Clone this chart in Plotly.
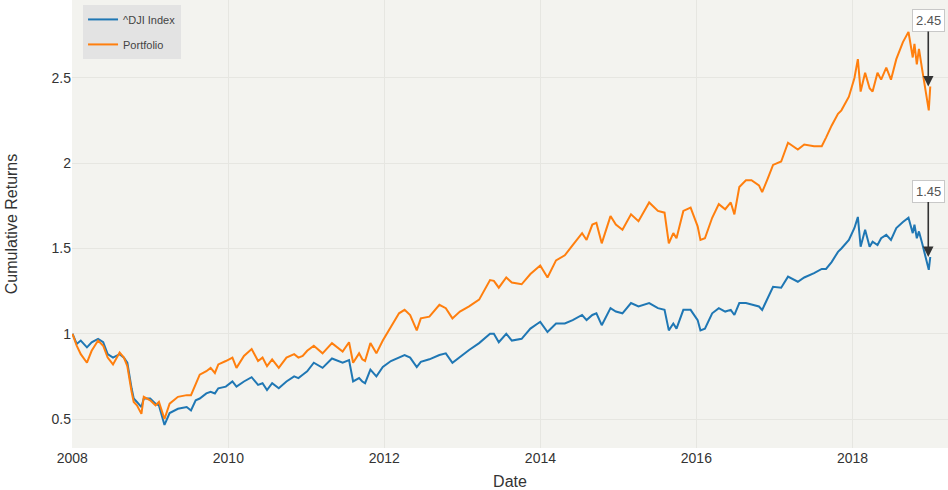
import plotly.graph_objects as go

dates = [
    "2008-01-02", "2008-01-22", "2008-02-10", "2008-03-10", "2008-04-01", "2008-05-01", "2008-05-25", "2008-06-15",
    "2008-07-10", "2008-08-10", "2008-08-30", "2008-09-15", "2008-10-05", "2008-10-15", "2008-10-30", "2008-11-20",
    "2008-12-01", "2008-12-31",
    "2009-01-25", "2009-02-10", "2009-03-08", "2009-04-01", "2009-05-10", "2009-06-20", "2009-07-10", "2009-08-01",
    "2009-08-20", "2009-09-20", "2009-10-10", "2009-10-30", "2009-11-15", "2009-12-20",
    "2010-01-20", "2010-02-08", "2010-03-15", "2010-04-20", "2010-05-20", "2010-06-10", "2010-07-01", "2010-07-25",
    "2010-08-25", "2010-09-30", "2010-11-05", "2010-11-25", "2010-12-15",
    "2011-01-05", "2011-02-05", "2011-03-18", "2011-05-01", "2011-06-20", "2011-07-20", "2011-08-08", "2011-09-05",
    "2011-09-20", "2011-10-03", "2011-10-28", "2011-11-25", "2011-12-25",
    "2012-02-01", "2012-03-10", "2012-04-05", "2012-05-01", "2012-06-01", "2012-06-20", "2012-07-30", "2012-09-15",
    "2012-10-15", "2012-11-15", "2012-12-20",
    "2013-02-01", "2013-03-20", "2013-05-10", "2013-05-28", "2013-06-20", "2013-07-25", "2013-08-20", "2013-10-05",
    "2013-11-15", "2013-12-31",
    "2014-02-03", "2014-03-15", "2014-04-25", "2014-06-01", "2014-07-15", "2014-08-05", "2014-09-01", "2014-09-20",
    "2014-10-15", "2014-11-25", "2014-12-20",
    "2015-01-20", "2015-03-01", "2015-04-05", "2015-05-25", "2015-07-05", "2015-08-05", "2015-08-25", "2015-09-15",
    "2015-09-30", "2015-11-01", "2015-12-05",
    "2016-01-07", "2016-01-20", "2016-02-10", "2016-03-15", "2016-04-15", "2016-05-15", "2016-06-10", "2016-06-27",
    "2016-07-20", "2016-08-20", "2016-09-15", "2016-10-20", "2016-11-04", "2016-11-30", "2016-12-25",
    "2017-02-01", "2017-03-05", "2017-04-20", "2017-05-20", "2017-07-05", "2017-08-10", "2017-08-30", "2017-09-25",
    "2017-10-25", "2017-11-10", "2017-12-15",
    "2018-01-10", "2018-01-26", "2018-02-08", "2018-03-01", "2018-03-22", "2018-04-05", "2018-04-28", "2018-05-15",
    "2018-06-08", "2018-06-30", "2018-07-25", "2018-08-25", "2018-09-20", "2018-10-10", "2018-10-18", "2018-10-29",
    "2018-11-08", "2018-11-23", "2018-12-24", "2018-12-31",
]

dji = [
    1.00, 0.94, 0.96, 0.92, 0.95, 0.97, 0.95, 0.88, 0.86, 0.88, 0.86, 0.83, 0.68, 0.62, 0.60, 0.57, 0.62, 0.62,
    0.59, 0.58, 0.465, 0.535, 0.56, 0.57, 0.55, 0.61, 0.62, 0.65, 0.66, 0.65, 0.68, 0.69,
    0.72, 0.69, 0.72, 0.745, 0.70, 0.71, 0.67, 0.71, 0.68, 0.72, 0.75, 0.74, 0.76,
    0.78, 0.83, 0.80, 0.855, 0.83, 0.845, 0.72, 0.74, 0.72, 0.71, 0.79, 0.75, 0.805,
    0.84, 0.86, 0.875, 0.86, 0.805, 0.835, 0.85, 0.875, 0.885, 0.83, 0.865,
    0.905, 0.945, 1.00, 1.00, 0.95, 1.00, 0.96, 0.97, 1.03, 1.07,
    1.01, 1.06, 1.06, 1.08, 1.11, 1.08, 1.11, 1.12, 1.05, 1.15, 1.13,
    1.12, 1.18, 1.16, 1.18, 1.15, 1.14, 1.02, 1.06, 1.03, 1.14, 1.14,
    1.08, 1.02, 1.03, 1.12, 1.15, 1.13, 1.14, 1.11, 1.18, 1.18, 1.17, 1.16, 1.14, 1.21, 1.275,
    1.27, 1.335, 1.305, 1.33, 1.355, 1.38, 1.38, 1.42, 1.48, 1.50, 1.55,
    1.62, 1.685, 1.51, 1.61, 1.51, 1.54, 1.52, 1.56, 1.58, 1.55, 1.62, 1.655, 1.68, 1.59, 1.64, 1.56, 1.60, 1.53,
    1.375, 1.45,
]

portfolio = [
    1.00, 0.93, 0.88, 0.83, 0.90, 0.96, 0.93, 0.86, 0.82, 0.89, 0.86, 0.81, 0.66, 0.60, 0.58, 0.53, 0.63, 0.61,
    0.58, 0.60, 0.50, 0.59, 0.63, 0.64, 0.64, 0.70, 0.76, 0.78, 0.80, 0.77, 0.82, 0.84,
    0.86, 0.80, 0.87, 0.91, 0.84, 0.86, 0.81, 0.85, 0.80, 0.86, 0.88, 0.86, 0.87,
    0.90, 0.93, 0.885, 0.945, 0.895, 0.95, 0.83, 0.885, 0.85, 0.84, 0.945, 0.885, 0.96,
    1.04, 1.12, 1.14, 1.11, 1.02, 1.09, 1.10, 1.17, 1.15, 1.09, 1.13,
    1.16, 1.20, 1.315, 1.31, 1.27, 1.33, 1.30, 1.29, 1.35, 1.40,
    1.33, 1.43, 1.46, 1.52, 1.59, 1.55, 1.64, 1.65, 1.53, 1.69, 1.64,
    1.61, 1.70, 1.66, 1.77, 1.72, 1.71, 1.53, 1.59, 1.56, 1.72, 1.74,
    1.63, 1.55, 1.56, 1.68, 1.76, 1.73, 1.77, 1.70, 1.86, 1.90, 1.90, 1.87, 1.83, 1.91, 1.99,
    2.01, 2.12, 2.08, 2.11, 2.10, 2.10, 2.15, 2.22, 2.29, 2.31, 2.39,
    2.50, 2.61, 2.42, 2.53, 2.44, 2.42, 2.53, 2.49, 2.56, 2.49, 2.61, 2.71, 2.77, 2.62, 2.70, 2.58, 2.67, 2.55,
    2.31, 2.45,
]

series_names = ["^DJI Index", "Portfolio"]
series_colors = ["#1f77b4", "#ff7f0e"]
x_tick_labels = ["2008", "2010", "2012", "2014", "2016", "2018"]
y_tick_vals = [0.5, 1, 1.5, 2, 2.5]
y_tick_labels = ["0.5", "1", "1.5", "2", "2.5"]

fig = go.Figure()
for name, vals, col in zip(series_names, [dji, portfolio], series_colors):
    fig.add_trace(go.Scatter(x=dates, y=vals, mode="lines", name=name, legendgroup=name,
                             line=dict(color=col, width=2)))

for vals in [portfolio, dji]:
    fig.add_annotation(x=dates[-1], y=vals[-1], text=f"{vals[-1]:.2f}",
                       showarrow=True, ax=0, ay=-66, arrowhead=2, arrowsize=1.3,
                       arrowwidth=1.6, arrowcolor="#333333", xshift=-2,
                       bgcolor="white", bordercolor="#c8c8c8", borderwidth=1, borderpad=3,
                       font=dict(family="Liberation Sans", size=13, color="#555555"))

fig.update_layout(
    width=948, height=490,
    margin=dict(l=72, r=0, t=0, b=42),
    paper_bgcolor="white",
    plot_bgcolor="#f3f3ef",
    font=dict(family="Liberation Sans", size=14, color="#333333"),
    showlegend=True,
    legend=dict(x=0.0126, y=0.989, xanchor="left", yanchor="top",
                bgcolor="#e3e3e3", borderwidth=0,
                font=dict(size=11, color="#444444"),
                itemwidth=30, tracegroupgap=6),
    xaxis=dict(range=["2007-12-31", "2019-03-24"],
               tickvals=[f"{t}-01-01" for t in x_tick_labels], ticktext=x_tick_labels,
               showgrid=True, gridcolor="#e6e6e1", gridwidth=1, zeroline=False,
               showline=False, ticks="",
               title=dict(text="Date", font=dict(size=16, color="#333333"), standoff=11),
               tickfont=dict(size=14, color="#333333")),
    yaxis=dict(range=[0.33, 2.957], tickvals=y_tick_vals, ticktext=y_tick_labels,
               showgrid=True, gridcolor="#e6e6e1", gridwidth=1, zeroline=False,
               showline=False, ticks="",
               title=dict(text="Cumulative Returns", font=dict(size=16, color="#333333"), standoff=29),
               tickfont=dict(size=14, color="#333333")),
)

fig.write_html("out.html", config={"displayModeBar": False},
               post_script="document.body.style.margin='0';document.body.style.padding='0';")
